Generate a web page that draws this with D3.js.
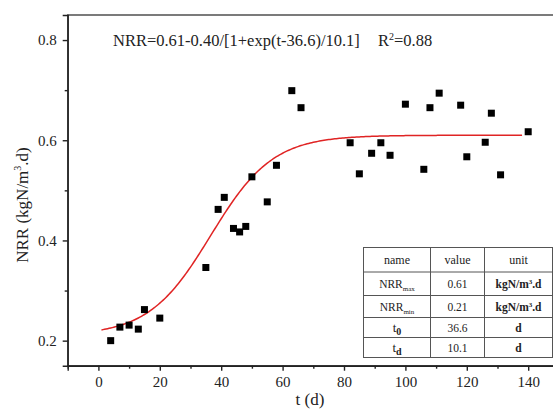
<!DOCTYPE html>
<html>
<head>
<meta charset="utf-8">
<script src="https://cdn.jsdelivr.net/npm/d3@7"></script>
<style>
	body { margin: 0; background: #fff; }
	svg { display: block; font-family: "Liberation Serif", "Times New Roman", serif; }
</style>
</head>
<body>
<div id="chart"></div>
<script>
// measured points: time (d) and NRR (kgN/m3.d)
var days = [4, 7, 10, 13, 15, 20, 35, 39, 41, 44, 46, 48, 50, 55, 58, 63, 66,
	82, 85, 89, 92, 95, 100, 106, 108, 111, 118, 120, 126, 128, 131, 140];
var nrr = [0.200, 0.227, 0.231, 0.223, 0.262, 0.245, 0.346, 0.462, 0.486, 0.424, 0.417, 0.428, 0.527, 0.477, 0.550, 0.699, 0.665,
	0.595, 0.533, 0.574, 0.595, 0.570, 0.672, 0.542, 0.665, 0.694, 0.670, 0.567, 0.596, 0.654, 0.531, 0.617];

// fitted logistic parameters (as printed on the chart)
var fitMax = 0.61, fitAmp = 0.40, fitT0 = 36.6, fitTd = 10.1;
var fitR2 = "0.88";
var fitRange = [1, 138];

var xTicks = [0, 20, 40, 60, 80, 100, 120, 140];
var yTicks = [0.2, 0.4, 0.6, 0.8];

var tableHead = ["name", "value", "unit"];
var tableNames = [["NRR", "max"], ["NRR", "min"], ["t", "0"], ["t", "d"]];
var tableValues = ["0.61", "0.21", "36.6", "10.1"];
var tableUnits = ["kgN/m3.d", "kgN/m3.d", "d", "d"];

var width = 553, height = 417;

var svg = d3.select("#chart")
	.append("svg")
	.attr("width", width)
	.attr("height", height);

var x = d3.scaleLinear().domain([-10, 150]).range([67.7, 558.9]);
var y = d3.scaleLinear().domain([0.15, 0.85]).range([365.7, 15.0]);

// frame (top line, right side falls off the picture)
svg.append("rect")
	.attr("x", x(-10))
	.attr("y", y(0.85))
	.attr("width", x(150) - x(-10))
	.attr("height", y(0.15) - y(0.85))
	.attr("fill", "none")
	.attr("stroke", "#444")
	.attr("stroke-width", 1.4);

// x axis
svg.append("g")
	.attr("transform", "translate(0," + y(0.15) + ")")
	.call(d3.axisBottom(x).tickValues(xTicks).tickSize(5).tickPadding(6).tickFormat(d3.format("d")));
svg.append("g")
	.attr("transform", "translate(0," + y(0.15) + ")")
	.call(d3.axisBottom(x).tickValues([-10, 10, 30, 50, 70, 90, 110, 130, 150]).tickSize(3).tickFormat(""))
	.select(".domain").remove();

// y axis
svg.append("g")
	.attr("transform", "translate(" + x(-10) + ",0)")
	.call(d3.axisLeft(y).tickValues(yTicks).tickSize(5).tickPadding(6).tickFormat(d3.format(".1f")));
svg.append("g")
	.attr("transform", "translate(" + x(-10) + ",0)")
	.call(d3.axisLeft(y).tickValues([0.3, 0.5, 0.7]).tickSize(3).tickFormat(""))
	.select(".domain").remove();

svg.selectAll(".domain, .tick line")
	.attr("stroke", "#222")
	.attr("stroke-width", 1.4);
svg.selectAll(".tick text")
	.attr("font-family", "Liberation Serif, serif")
	.attr("font-size", "15px")
	.attr("fill", "#222");

// axis titles
svg.append("text")
	.attr("x", 310)
	.attr("y", 405)
	.attr("text-anchor", "middle")
	.attr("font-size", "17px")
	.attr("fill", "#222")
	.text("t (d)");

var yTitle = svg.append("text")
	.attr("transform", "translate(28,205) rotate(-90)")
	.attr("text-anchor", "middle")
	.attr("font-size", "17px")
	.attr("fill", "#222");
yTitle.append("tspan").text("NRR (kgN/m");
yTitle.append("tspan").attr("dy", -7).attr("font-size", "10px").text("3");
yTitle.append("tspan").attr("dy", 7).text(".d)");

// fit curve
var fitData = d3.range(fitRange[0], fitRange[1] + 0.5, 0.5).map(function(t) {
	return [t, fitMax - fitAmp / (1 + Math.exp((t - fitT0) / fitTd))];
});
svg.append("path")
	.datum(fitData)
	.attr("fill", "none")
	.attr("stroke", "#e02424")
	.attr("stroke-width", 1.5)
	.attr("d", d3.line()
		.x(function(d) { return x(d[0]); })
		.y(function(d) { return y(d[1]); }));

// points
var sq = 7;
svg.selectAll("rect.pt")
	.data(days)
	.enter()
	.append("rect")
	.attr("class", "pt")
	.attr("x", function(d) { return x(d) - sq / 2; })
	.attr("y", function(d, i) { return y(nrr[i]) - sq / 2; })
	.attr("width", sq)
	.attr("height", sq)
	.attr("fill", "#000");

// equation
var eq = svg.append("text")
	.attr("x", 113)
	.attr("y", 46)
	.attr("font-size", "16.5px")
	.attr("fill", "#222");
eq.append("tspan").text("NRR=" + fitMax + "-" + fitAmp.toFixed(2) + "/[1+exp(t-" + fitT0 + ")/" + fitTd + "]");
eq.append("tspan").attr("x", 378).text("R");
eq.append("tspan").attr("dy", -6).attr("font-size", "10px").text("2");
eq.append("tspan").attr("dy", 6).text("=" + fitR2);

// parameter table
var colX = [363.5, 430.5, 484.5, 552.5];
var rowY = [247.5, 272, 295.5, 317.5, 337.5, 357.5];
var table = svg.append("g");

table.append("rect")
	.attr("x", colX[0]).attr("y", rowY[0])
	.attr("width", colX[3] - colX[0]).attr("height", rowY[5] - rowY[0])
	.attr("fill", "#fff")
	.attr("stroke", "#555")
	.attr("stroke-width", 1);
table.selectAll("line.col")
	.data([colX[1], colX[2]])
	.enter().append("line")
	.attr("x1", function(d) { return d; }).attr("x2", function(d) { return d; })
	.attr("y1", rowY[0]).attr("y2", rowY[5])
	.attr("stroke", "#555");
table.selectAll("line.row")
	.data(rowY.slice(1, 5))
	.enter().append("line")
	.attr("x1", colX[0]).attr("x2", colX[3])
	.attr("y1", function(d) { return d; }).attr("y2", function(d) { return d; })
	.attr("stroke", "#555");

function cx(c) { return (colX[c] + colX[c + 1]) / 2; }
function cy(r) { return (rowY[r] + rowY[r + 1]) / 2 + 4; }

table.selectAll("text.head")
	.data(tableHead)
	.enter().append("text")
	.attr("x", function(d, i) { return cx(i); })
	.attr("y", cy(0))
	.attr("text-anchor", "middle")
	.attr("font-size", "12px")
	.attr("fill", "#222")
	.text(function(d) { return d; });

tableNames.forEach(function(n, i) {
	var big = n[0] == "t";
	var t = table.append("text")
		.attr("x", cx(0))
		.attr("y", cy(i + 1))
		.attr("text-anchor", "middle")
		.attr("font-size", big ? "13px" : "11.5px")
		.attr("fill", "#222");
	t.append("tspan").text(n[0]);
	t.append("tspan").attr("dy", 3).attr("font-size", big ? "10px" : "7px")
		.attr("font-weight", big ? "bold" : "normal").text(n[1]);
});

table.selectAll("text.val")
	.data(tableValues)
	.enter().append("text")
	.attr("x", cx(1))
	.attr("y", function(d, i) { return cy(i + 1); })
	.attr("text-anchor", "middle")
	.attr("font-size", "11.5px")
	.attr("fill", "#222")
	.text(function(d) { return d; });

tableUnits.forEach(function(u, i) {
	var t = table.append("text")
		.attr("x", cx(2))
		.attr("y", cy(i + 1))
		.attr("text-anchor", "middle")
		.attr("font-size", "11.5px")
		.attr("font-weight", "bold")
		.attr("fill", "#222");
	if (u == "d") {
		t.text(u);
	} else {
		t.append("tspan").text("kgN/m");
		t.append("tspan").attr("dy", -4).attr("font-size", "7px").text("3");
		t.append("tspan").attr("dy", 4).text(".d");
	}
});
</script>
</body>
</html>
